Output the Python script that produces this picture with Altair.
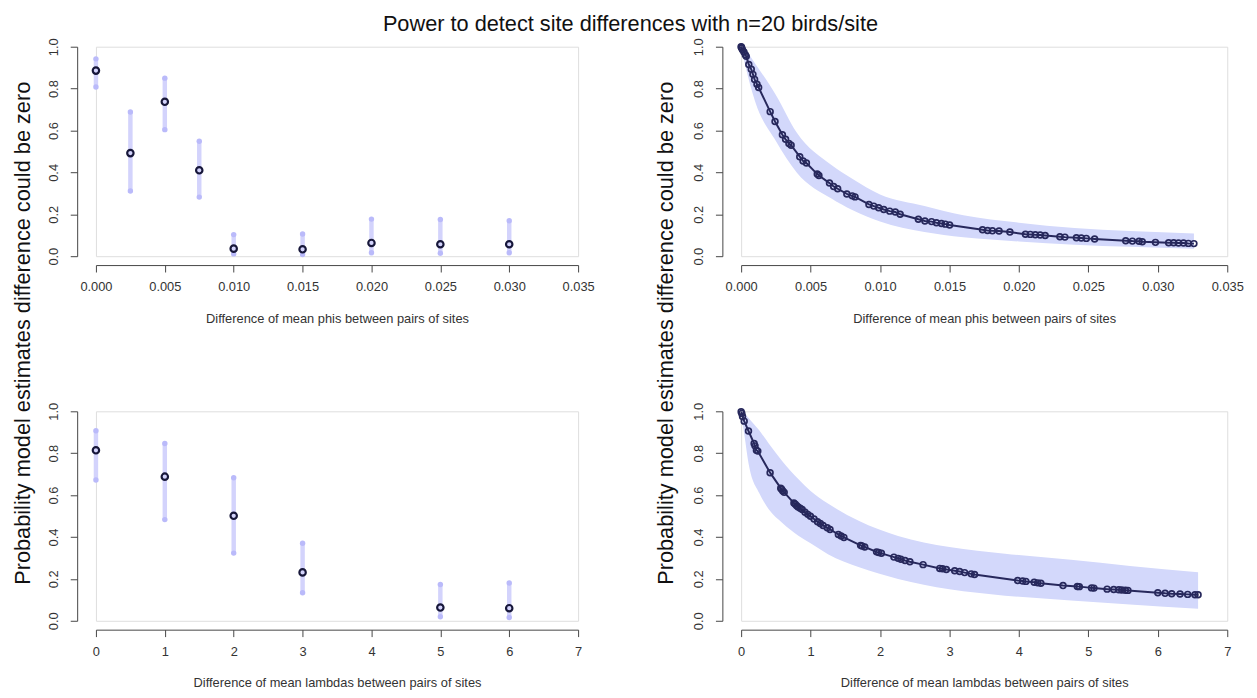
import altair as alt
import pandas as pd

FONT = "Liberation Sans"
TITLE = "Power to detect site differences with n=20 birds/site"
YLAB = "Probability model estimates difference could be zero"
XLAB_PHI = "Difference of mean phis between pairs of sites"
XLAB_LAM = "Difference of mean lambdas between pairs of sites"

# ---- top-left: estimates at fixed phi differences ----
phi_x = [0.0, 0.0025, 0.005, 0.0075, 0.010, 0.015, 0.020, 0.025, 0.030]
phi_mean = [0.886, 0.492, 0.737, 0.410, 0.036, 0.033, 0.063, 0.057, 0.057]
phi_lo = [0.808, 0.311, 0.604, 0.282, 0.011, 0.008, 0.016, 0.014, 0.016]
phi_hi = [0.942, 0.688, 0.850, 0.549, 0.103, 0.106, 0.177, 0.175, 0.169]
phi_ticks = [0.0, 0.005, 0.010, 0.015, 0.020, 0.025, 0.030, 0.035]

# ---- bottom-left: estimates at fixed lambda differences ----
lam_x = [0, 1, 2, 3, 5, 6]
lam_mean = [0.814, 0.688, 0.501, 0.231, 0.063, 0.060]
lam_lo = [0.672, 0.483, 0.323, 0.134, 0.019, 0.016]
lam_hi = [0.907, 0.846, 0.683, 0.370, 0.173, 0.180]
lam_ticks = [0, 1, 2, 3, 4, 5, 6, 7]

y_ticks = [0.0, 0.2, 0.4, 0.6, 0.8, 1.0]

# ---- top-right: simulated pairs (phi) ----
phi_pts_x = [0.0, 0.00002, 0.00005, 0.0001, 0.0002, 0.0003, 0.00037, 0.00055, 0.00073, 0.00085,
             0.00097, 0.00114, 0.00126, 0.00209, 0.00244, 0.00297, 0.0032, 0.00344, 0.0036, 0.00422,
             0.00446, 0.0047, 0.00548, 0.0056, 0.00636, 0.00666, 0.00695, 0.00761, 0.0080, 0.0082,
             0.0092, 0.00955, 0.0099, 0.01027, 0.0107, 0.0111, 0.01145, 0.01276, 0.01323, 0.01371,
             0.01406, 0.01442, 0.0147, 0.01501, 0.01738, 0.01774, 0.01809, 0.01857, 0.01935, 0.02047,
             0.02082, 0.02118, 0.02153, 0.02189, 0.02295, 0.02331, 0.02414, 0.02449, 0.02485, 0.02545,
             0.02769, 0.02817, 0.02865, 0.02888, 0.02983, 0.03078, 0.03114, 0.03149, 0.03185, 0.0322,
             0.0326]
phi_pts_y = [1.0, 0.997, 0.993, 0.985, 0.975, 0.962, 0.954, 0.915, 0.892, 0.868,
             0.844, 0.821, 0.805, 0.69, 0.643, 0.58, 0.558, 0.538, 0.53, 0.475,
             0.454, 0.445, 0.392, 0.385, 0.349, 0.333, 0.322, 0.297, 0.288, 0.283,
             0.247, 0.239, 0.231, 0.223, 0.215, 0.211, 0.2, 0.176, 0.168, 0.165,
             0.16, 0.156, 0.153, 0.149, 0.126, 0.123, 0.121, 0.12, 0.115, 0.105,
             0.104, 0.102, 0.101, 0.099, 0.093, 0.091, 0.088, 0.087, 0.085, 0.082,
             0.074, 0.072, 0.071, 0.069, 0.066, 0.064, 0.064, 0.063, 0.063, 0.061,
             0.060]
phi_band_x = [0.0, 0.0003, 0.001, 0.0025, 0.004, 0.0065, 0.008, 0.010, 0.0132, 0.016, 0.020, 0.024, 0.028, 0.0326]
phi_band_lo = [1.0, 0.91, 0.74, 0.55, 0.40, 0.275, 0.22, 0.165, 0.115, 0.09, 0.07, 0.055, 0.045, 0.035]
phi_band_hi = [1.0, 0.985, 0.92, 0.77, 0.59, 0.435, 0.37, 0.295, 0.24, 0.195, 0.16, 0.135, 0.12, 0.108]

# ---- bottom-right: simulated pairs (lambda) ----
lam_pts_x = [0.0, 0.01, 0.02, 0.044, 0.106, 0.187, 0.20, 0.22, 0.24, 0.417,
             0.57, 0.583, 0.60, 0.62, 0.76, 0.78, 0.80, 0.82, 0.85, 0.879,
             0.92, 0.96, 0.998, 1.05, 1.10, 1.14, 1.18, 1.24, 1.28, 1.40,
             1.44, 1.48, 1.72, 1.74, 1.78, 1.95, 1.98, 2.02, 2.20, 2.26,
             2.30, 2.36, 2.43, 2.62, 2.86, 2.90, 2.955, 3.075, 3.146, 3.218,
             3.313, 3.361, 3.982, 4.054, 4.10, 4.22, 4.27, 4.316, 4.635, 4.841,
             4.87, 5.046, 5.08, 5.27, 5.365, 5.437, 5.48, 5.533, 5.57, 6.0,
             6.105, 6.2, 6.32, 6.43, 6.535, 6.58]
lam_pts_y = [0.998, 0.99, 0.975, 0.953, 0.906, 0.846, 0.835, 0.814, 0.81, 0.707,
             0.633, 0.628, 0.62, 0.613, 0.562, 0.556, 0.549, 0.543, 0.537, 0.531,
             0.518, 0.508, 0.499, 0.486, 0.473, 0.464, 0.455, 0.444, 0.436, 0.412,
             0.405, 0.398, 0.36, 0.357, 0.352, 0.329, 0.326, 0.322, 0.304, 0.298,
             0.294, 0.288, 0.282, 0.268, 0.25, 0.248, 0.245, 0.239, 0.235, 0.23,
             0.224, 0.221, 0.192, 0.19, 0.188, 0.184, 0.181, 0.179, 0.168, 0.164,
             0.163, 0.157, 0.156, 0.151, 0.149, 0.148, 0.147, 0.146, 0.145, 0.134,
             0.131, 0.129, 0.128, 0.126, 0.124, 0.124]
lam_band_x = [0.0, 0.044, 0.116, 0.26, 0.40, 0.59, 0.83, 1.0, 1.25, 1.7, 2.26, 3.0, 3.8, 4.75, 5.6, 6.58]
lam_band_lo = [0.99, 0.893, 0.735, 0.61, 0.531, 0.468, 0.405, 0.37, 0.318, 0.255, 0.2, 0.15, 0.12, 0.097, 0.078, 0.058]
lam_band_hi = [1.0, 0.99, 0.965, 0.909, 0.845, 0.763, 0.674, 0.62, 0.56, 0.476, 0.405, 0.352, 0.32, 0.291, 0.262, 0.232]

# ---- styling ----
AX = "#444444"
TX = "#333333"
NAVY = "#27285c"
DARK = "#17173a"
BAR = "#d3d3fc"
DOT = "#babafa"
BAND = "#d3d8fb"
W_L, W_R, H = 488, 492, 212


def y_axis():
    return alt.Axis(values=y_ticks, format=".1f", labelAngle=270, labelAlign="center",
                    labelBaseline="bottom", labelPadding=10, tickSize=7, offset=19, title=None,
                    grid=False, domainColor=AX, tickColor=AX, labelColor=TX, labelFont=FONT,
                    labelFontSize=13, labelFlush=False, labelOverlap=False)


def x_axis(vals, fmt, title):
    return alt.Axis(values=vals, format=fmt, offset=9, tickSize=7, labelPadding=9,
                    labelFlush=False, labelOverlap=False, title=title, titleFont=FONT,
                    titleFontSize=13, titleFontWeight="normal", titleColor=TX, titlePadding=19,
                    grid=False, domainColor=AX, tickColor=AX, labelColor=TX, labelFont=FONT,
                    labelFontSize=13)


yscale = alt.Scale(domain=[0, 1], nice=False, zero=False)


def Y(field):
    return alt.Y(field, type="quantitative", scale=yscale, axis=y_axis())


def interval_panel(xs, m, lo, hi, xdom, ticks, fmt, xtitle):
    df = pd.DataFrame({"x": xs, "m": m, "lo": lo, "hi": hi})
    X = alt.X("x:Q", scale=alt.Scale(domain=xdom, nice=False, zero=False),
              axis=x_axis(ticks, fmt, xtitle))
    base = alt.Chart(df).encode(x=X)
    bars = base.mark_rule(color=BAR, strokeWidth=4.5).encode(y=Y("lo"), y2="hi:Q")
    lo_d = base.mark_circle(color=DOT, size=30, opacity=1).encode(y=Y("lo"))
    hi_d = base.mark_circle(color=DOT, size=30, opacity=1).encode(y=Y("hi"))
    pts = base.mark_point(shape="circle", filled=False, color=DARK, strokeWidth=2.2,
                          size=42, opacity=1).encode(y=Y("m"))
    return [bars, lo_d, hi_d, pts]


def curve_panel(px, py, bx, blo, bhi, xdom, ticks, fmt, xtitle):
    dpts = pd.DataFrame({"x": px, "y": py})
    dband = pd.DataFrame({"x": bx, "lo": blo, "hi": bhi})
    xs = alt.Scale(domain=xdom, nice=False, zero=False)
    X = alt.X("x:Q", scale=xs, axis=x_axis(ticks, fmt, xtitle))
    band = alt.Chart(dband).mark_area(color=BAND, opacity=1, interpolate="monotone").encode(
        x=X, y=Y("lo"), y2="hi:Q")
    line = alt.Chart(dpts).mark_line(color=NAVY, strokeWidth=2).encode(x=X, y=Y("y"))
    pts = alt.Chart(dpts).mark_point(shape="circle", filled=False, color=NAVY, strokeWidth=1.7,
                                     size=34, opacity=1).encode(x=X, y=Y("y"))
    return [band, line, pts]


def text_layer(txt, x, y, size, angle=0):
    return alt.Chart(pd.DataFrame({"t": [txt]})).mark_text(
        font=FONT, fontSize=size, color="#111111", angle=angle, align="center",
        baseline="middle").encode(text="t:N", x=alt.value(x), y=alt.value(y))


tl = alt.layer(*interval_panel(phi_x, phi_mean, phi_lo, phi_hi, [0, 0.035], phi_ticks, ".3f",
                               XLAB_PHI),
               text_layer(YLAB, -74, 290, 22, 270),
               text_layer(TITLE, 541, -23, 22)).properties(width=W_L, height=H)
bl = alt.layer(*interval_panel(lam_x, lam_mean, lam_lo, lam_hi, [0, 7], lam_ticks, "d",
                               XLAB_LAM)).properties(width=W_L, height=H)
tr = alt.layer(*curve_panel(phi_pts_x, phi_pts_y, phi_band_x, phi_band_lo, phi_band_hi,
                            [0, 0.035], phi_ticks, ".3f", XLAB_PHI),
               text_layer(YLAB, -76, 290, 22, 270)).properties(width=W_R, height=H)
br = alt.layer(*curve_panel(lam_pts_x, lam_pts_y, lam_band_x, lam_band_lo, lam_band_hi,
                            [0, 7], lam_ticks, "d", XLAB_LAM)).properties(width=W_R, height=H)

chart = alt.concat(tl, tr, bl, br, columns=2, spacing={"row": 157, "column": 165},
                   bounds="flush").properties(
    padding={"left": 3, "top": 0, "right": 5, "bottom": 5}
).configure_view(stroke=None).configure(font=FONT)

chart.save("out.html", embed_options={"renderer": "svg", "actions": False})
